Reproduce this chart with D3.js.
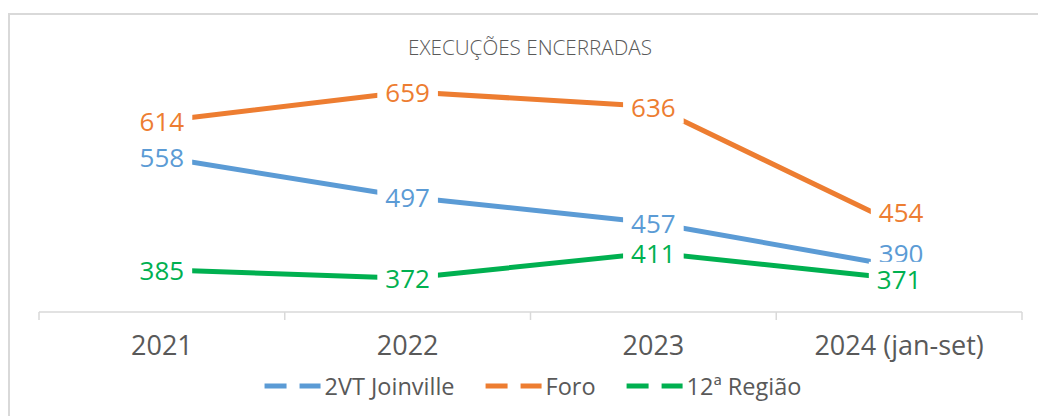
<!DOCTYPE html>
<html>
<head>
<meta charset="utf-8">
<script src="https://cdn.jsdelivr.net/npm/d3@7/dist/d3.min.js"></script>
<style>
  html, body { margin: 0; padding: 0; background: #fff; }
  svg { display: block; }
  text { font-family: "Open Sans", "Noto Sans", sans-serif; }
</style>
</head>
<body>
<svg id="chart" width="1038" height="416"></svg>
<script>
// ---- data ----
const title = "EXECUÇÕES ENCERRADAS";
const categories = ["2021", "2022", "2023", "2024 (jan-set)"];
const seriesNames = ["2VT Joinville", "Foro", "12ª Região"];
const joinville = [558, 497, 457, 390];
const foro = [614, 659, 636, 454];
const regiao = [385, 372, 411, 371];
const colors = ["#5B9BD5", "#ED7D31", "#00B050"];

const series = [
  { name: seriesNames[0], values: joinville, color: colors[0] },
  { name: seriesNames[1], values: foro, color: colors[1] },
  { name: seriesNames[2], values: regiao, color: colors[2] }
];
// manual label nudges (as in the original, two labels were moved up)
const labelNudge = { "2VT Joinville-3": [2, -14], "Foro-3": [2, -13] };

const svg = d3.select("#chart");
const W = 1038, H = 416;

// outer frame
svg.append("rect")
  .attr("x", 9).attr("y", 14)
  .attr("width", W + 20).attr("height", H + 20)
  .attr("fill", "#fff")
  .attr("stroke", "#D9D9D9").attr("stroke-width", 2);

// scales
const x = d3.scaleBand().domain(categories).range([39, 1022]).padding(0);
const y = d3.scaleLinear().domain([320, 700]).range([312, 65]);
const cx = c => x(c) + x.bandwidth() / 2;

// title
svg.append("text")
  .attr("x", 530).attr("y", 55)
  .attr("text-anchor", "middle")
  .attr("font-size", 20)
  .attr("font-weight", 300)
  .attr("fill", "#595959")
  .attr("textLength", 244)
  .attr("lengthAdjust", "spacingAndGlyphs")
  .text(title);

// x axis
const axisG = svg.append("g").attr("transform", "translate(0,312)");
axisG.call(d3.axisBottom(x).tickSize(0).tickPadding(0))
  .call(g => g.select(".domain").remove());
axisG.selectAll(".tick text")
  .attr("y", 43)
  .attr("dy", 0)
  .attr("font-size", 27)
  .attr("font-family", "'Open Sans', 'Noto Sans', sans-serif")
  .attr("fill", "#595959");
axisG.append("line")
  .attr("x1", 39).attr("x2", 1022).attr("y1", 0).attr("y2", 0)
  .attr("stroke", "#D9D9D9").attr("stroke-width", 1.5);
const edges = categories.map(c => x(c)).concat([x.range()[1]]);
axisG.selectAll(".edge").data(edges).join("line")
  .attr("class", "edge")
  .attr("x1", d => d).attr("x2", d => d)
  .attr("y1", 0).attr("y2", 8)
  .attr("stroke", "#D9D9D9").attr("stroke-width", 1.5);

// lines
const line = d3.line().x((d, i) => cx(categories[i])).y(d => y(d));
svg.append("g").selectAll("path").data(series).join("path")
  .attr("d", s => line(s.values))
  .attr("fill", "none")
  .attr("stroke", s => s.color)
  .attr("stroke-width", 5)
  .attr("stroke-linejoin", "round");

// data labels with white background boxes
const labG = svg.append("g");
series.forEach(s => {
  s.values.forEach((v, i) => {
    const nudge = labelNudge[s.name + "-" + i] || [0, 0];
    const lx = cx(categories[i]) + nudge[0];
    const ly = y(v) + nudge[1];
    const g = labG.append("g");
    const rect = g.append("rect").attr("fill", "#fff");
    const t = g.append("text")
      .attr("x", lx).attr("y", ly)
      .attr("text-anchor", "middle")
      .attr("dominant-baseline", "central")
      .attr("font-size", 26)
      .attr("fill", s.color)
      .text(v);
    const bb = t.node().getBBox();
    rect.attr("x", bb.x - 8).attr("y", ly - 17)
      .attr("width", bb.width + 16).attr("height", 34);
  });
});

// legend
const legG = svg.append("g");
const legY = 386;
const markerLen = 56, gapText = 4, gapEntry = 31;
let items = [];
let cursor = 0;
series.forEach(s => {
  const gi = legG.append("g");
  gi.append("line")
    .attr("x1", 0).attr("x2", markerLen)
    .attr("y1", 0).attr("y2", 0)
    .attr("stroke", s.color).attr("stroke-width", 5)
    .attr("stroke-dasharray", "22,13");
  const t = gi.append("text")
    .attr("x", markerLen + gapText).attr("y", 0)
    .attr("dominant-baseline", "central")
    .attr("font-size", 23.5)
    .attr("fill", "#595959")
    .text(s.name);
  const w = markerLen + gapText + t.node().getComputedTextLength();
  items.push({ g: gi, w: w, x: cursor });
  cursor += w + gapEntry;
});
const total = cursor - gapEntry;
const startX = 533 - total / 2;
items.forEach(it => it.g.attr("transform", `translate(${startX + it.x},${legY})`));
</script>
</body>
</html>
